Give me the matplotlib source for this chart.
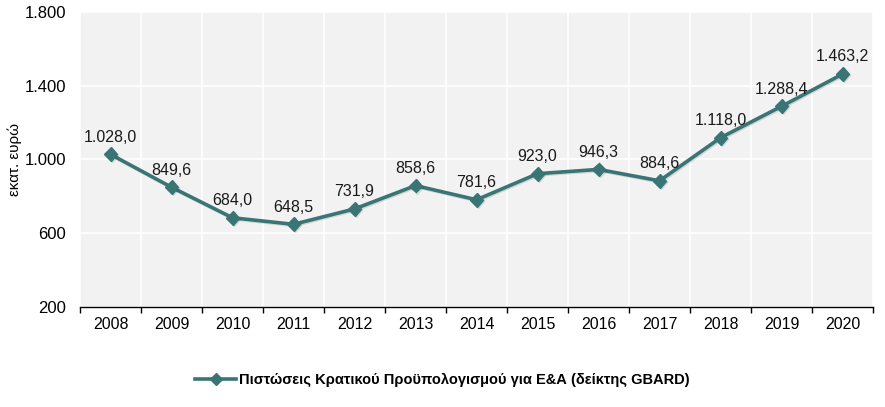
import numpy as np
import matplotlib.pyplot as plt
from matplotlib.ticker import FuncFormatter, FixedLocator
from matplotlib.lines import Line2D
import matplotlib.patheffects as pe

plt.rcParams['font.family'] = ['Liberation Sans', 'DejaVu Sans']

# data
years = ['2008', '2009', '2010', '2011', '2012', '2013', '2014',
         '2015', '2016', '2017', '2018', '2019', '2020']
gbard = [1028.0, 849.6, 684.0, 648.5, 731.9, 858.6, 781.6,
         923.0, 946.3, 884.6, 1118.0, 1288.4, 1463.2]
y_ticks = [200, 600, 1000, 1400, 1800]
series_name = 'Πιστώσεις Κρατικού Προϋπολογισμού για Ε&Α (δείκτης GBARD)'
y_label = 'εκατ. ευρώ'

line_color = '#3A7575'


def gr_num(v, dec=1):
    s = f'{v:,.{dec}f}'
    return s.replace(',', 'X').replace('.', ',').replace('X', '.')


fig = plt.figure(figsize=(8.85, 4.07), dpi=100)
ax = fig.add_axes([80 / 885, 1 - 307 / 407, 793 / 885, 295 / 407])

x = np.arange(len(years))
ax.set_facecolor('#F2F2F2')
shadow = [pe.SimpleLineShadow(offset=(0.8, -0.8), alpha=0.12), pe.Normal()]
ax.plot(x, gbard, color=line_color, lw=2.6, marker='D', ms=7,
        path_effects=shadow, zorder=3)

for xi, v in zip(x, gbard):
    ax.annotate(gr_num(v), (xi, v), xytext=(0, 7), textcoords='offset points',
                ha='center', va='bottom', fontsize=11.5, color='#1a1a1a')

ax.set_xlim(-0.5, len(years) - 0.5)
ax.set_ylim(200, 1800)
ax.yaxis.set_major_locator(FixedLocator(y_ticks))
ax.yaxis.set_major_formatter(FuncFormatter(lambda v, p: gr_num(v, 0)))
ax.set_xticks(x)
ax.set_xticklabels(years)
ax.xaxis.set_minor_locator(FixedLocator(np.arange(-0.5, len(years), 1)))

ax.grid(False)
ax.yaxis.grid(True, color='white', lw=1.2)
ax.xaxis.grid(True, which='minor', color='white', lw=1.2)
ax.set_axisbelow(True)

for s in ['top', 'right', 'left']:
    ax.spines[s].set_visible(False)
ax.spines['bottom'].set_color('black')
ax.spines['bottom'].set_linewidth(1.0)

ax.tick_params(axis='y', length=0, labelsize=12, pad=10)
ax.tick_params(axis='x', which='major', length=0, labelsize=11.5, pad=7)
ax.tick_params(axis='x', which='minor', length=4, width=1, color='black')
ax.set_ylabel(y_label, fontsize=11, labelpad=2)

handle = Line2D([], [], color=line_color, lw=2.6, marker='D', ms=6)
fig.legend([handle], [series_name], loc='center', bbox_to_anchor=(0.5, 1 - 380 / 407),
           frameon=False, prop={'weight': 'bold', 'size': 10.5},
           handlelength=2.8, handletextpad=0.2)

fig.savefig('out.png', dpi=100)
